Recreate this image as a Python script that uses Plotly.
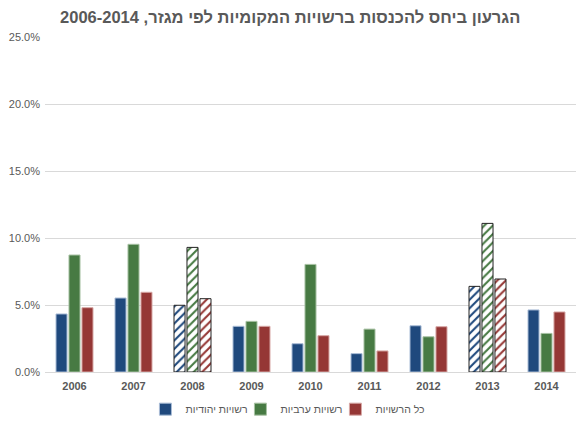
import plotly.graph_objects as go

years = ["2006", "2007", "2008", "2009", "2010", "2011", "2012", "2013", "2014"]

jewish = [0.0433, 0.0552, 0.0498, 0.0341, 0.0211, 0.0137, 0.0345, 0.0639, 0.0463]
arab = [0.0873, 0.0953, 0.0930, 0.0378, 0.0803, 0.0320, 0.0263, 0.1109, 0.0288]
all_auth = [0.0480, 0.0595, 0.0547, 0.0341, 0.0271, 0.0157, 0.0338, 0.0694, 0.0448]

names = ["רשויות יהודיות", "רשויות ערביות", "כל הרשויות"]
colors = ["#1f497d", "#477a43", "#953735"]
edge_colors = ["#a9bcd6", "#a8c2a4", "#d7a8a6"]

# years drawn with a hatched pattern
hatched = ["2008", "2013"]

fig = go.Figure()

for name, values, color, edge in zip(names, [jewish, arab, all_auth], colors, edge_colors):
    shapes = ["/" if y in hatched else "" for y in years]
    line_colors = ["#222222" if y in hatched else edge for y in years]
    fig.add_trace(go.Bar(
        x=years, y=values, name=name,
        marker=dict(
            color=color,
            line=dict(color=line_colors, width=1),
            pattern=dict(shape=shapes, fillmode="replace", bgcolor="white",
                         fgcolor=color, size=6, solidity=0.35),
        ),
    ))

# page body adds 8px, so the figure is drawn 8px smaller than the window
fig.update_layout(
    width=576, height=417,
    margin=dict(l=37, r=8, t=29, b=53, autoexpand=False),
    paper_bgcolor="white", plot_bgcolor="white",
    font=dict(family="Liberation Sans", color="#595959"),
    title=dict(text="<b>הגרעון ביחס להכנסות ברשויות המקומיות לפי מגזר, 2006-2014</b>",
               x=0.49, xanchor="center", y=0.978, yanchor="middle",
               font=dict(size=16.5, color="#595959")),
    barmode="group", bargap=0.34, bargroupgap=0.15,
    showlegend=True,
    legend=dict(orientation="h", xref="container", x=0.486, xanchor="center",
                yref="container", y=0.038, yanchor="middle",
                itemwidth=30, entrywidth=50, font=dict(size=10.5, color="#595959"),
                traceorder="normal"),
    xaxis=dict(showgrid=False, showline=False, ticks="", ticklabelstandoff=6,
               tickfont=dict(size=11, color="#595959", family="Liberation Sans"),
               tickprefix="<b>", ticksuffix="</b>"),
    yaxis=dict(range=[0, 0.25], dtick=0.05, tickformat=".1%", ticklabelstandoff=4,
               gridcolor="#d9d9d9", gridwidth=1, zeroline=True,
               zerolinecolor="#d9d9d9", zerolinewidth=1, showline=False,
               tickfont=dict(size=11, color="#595959")),
)

fig.write_html("out.html")
